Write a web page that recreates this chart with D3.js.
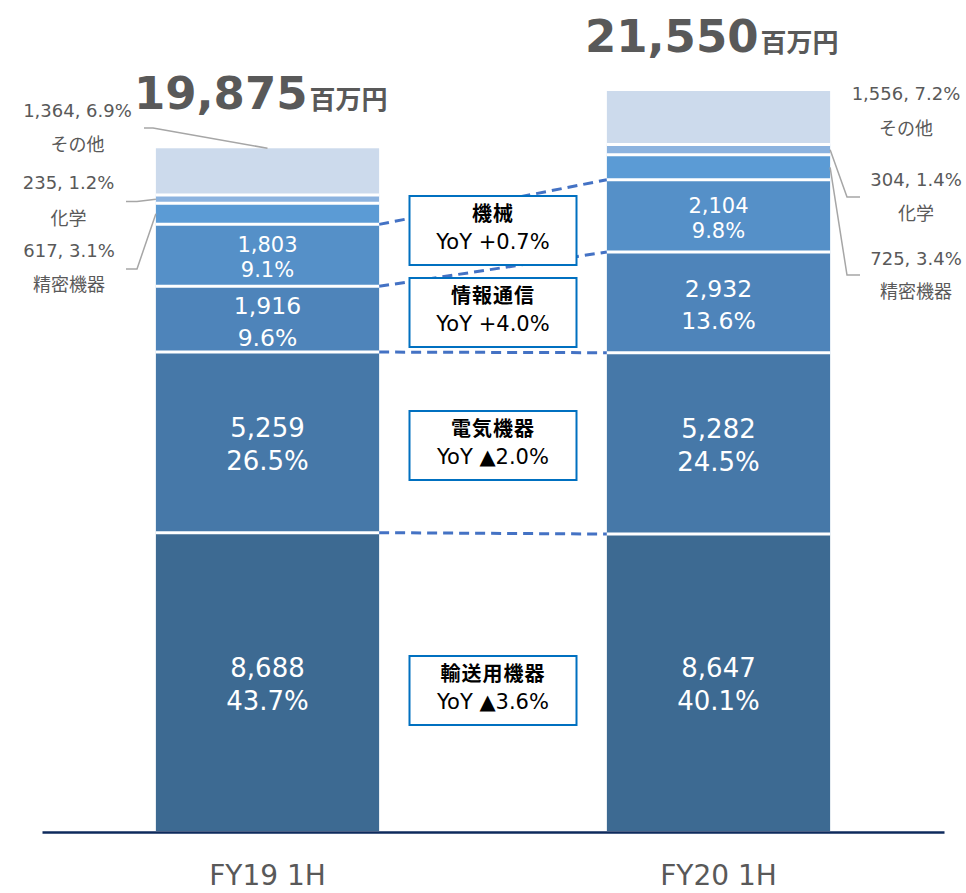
<!DOCTYPE html>
<html lang="ja">
<head>
<meta charset="utf-8">
<title>業種別売上構成</title>
<script src="https://cdn.jsdelivr.net/npm/d3@7"></script>
<style>
  body { margin: 0; background: #fff; }
  svg { display: block; font-family: 'DejaVu Sans', 'Noto Sans CJK JP', sans-serif; }
</style>
</head>
<body>
<svg width="966" height="893"></svg>
<script>
// data, bottom segment first
const categories = ['FY19 1H', 'FY20 1H'];
const segments = ['輸送用機器', '電気機器', '情報通信', '機械', '精密機器', '化学', 'その他'];
const fy19Values = [8688, 5259, 1916, 1803, 617, 235, 1364];
const fy19Shares = [43.7, 26.5, 9.6, 9.1, 3.1, 1.2, 6.9];
const fy20Values = [8647, 5282, 2932, 2104, 725, 304, 1556];
const fy20Shares = [40.1, 24.5, 13.6, 9.8, 3.4, 1.4, 7.2];
const totals = [19875, 21550];
const totalUnit = '百万円';
const yoyLabels = ['YoY ▲3.6%', 'YoY ▲2.0%', 'YoY +4.0%', 'YoY +0.7%'];

const values = [fy19Values, fy20Values];
const shares = [fy19Shares, fy20Shares];

// styles / layout
const colors = ['#3d6a92', '#4678a8', '#4e84ba', '#5590c8', '#5b9bd5', '#8cb3df', '#ccdaec'];
const innerFont = [26, 26, 23.5, 21];
const innerGap = [33, 33, 32, 25];
const boxTops = [656, 411, 278, 196];
const grey = '#595959';
const leaderColor = '#a6a6a6';

const svg = d3.select('svg');

const x = d3.scaleBand()
  .domain(categories)
  .range([42, 944])
  .paddingInner(0.505)
  .paddingOuter(0.2525);
const bw = x.bandwidth();

const y = d3.scaleLinear()
  .domain([0, d3.max(totals)])
  .range([831, 91]);

const rows = categories.map((c, i) => {
  const r = { category: c };
  segments.forEach((s, j) => { r[s] = values[i][j]; });
  return r;
});
const series = d3.stack().keys(segments)(rows);

const fmt = d3.format(',');
const pct = d3.format('.1f');

// dashed connectors between the bars (behind the boxes)
const connectors = svg.append('g');
[0, 1, 2, 3].forEach((j) => {
  connectors.append('line')
    .attr('x1', x(categories[0]) + bw)
    .attr('y1', y(series[j][0][1]))
    .attr('x2', x(categories[1]))
    .attr('y2', y(series[j][1][1]))
    .attr('stroke', '#4472c4')
    .attr('stroke-width', 3)
    .attr('stroke-dasharray', '10,6');
});

// bars
const bars = svg.append('g');
series.forEach((s, j) => {
  bars.selectAll(null)
    .data(s)
    .join('rect')
    .attr('x', d => x(d.data.category))
    .attr('y', d => y(d[1]))
    .attr('width', bw)
    .attr('height', d => y(d[0]) - y(d[1]))
    .attr('fill', colors[j]);
});

// white gaps between segments
series.slice(0, -1).forEach((s) => {
  bars.selectAll(null)
    .data(s)
    .join('line')
    .attr('x1', d => x(d.data.category))
    .attr('x2', d => x(d.data.category) + bw)
    .attr('y1', d => y(d[1]))
    .attr('y2', d => y(d[1]))
    .attr('stroke', '#fff')
    .attr('stroke-width', 3);
});

// labels inside the big segments
const inner = svg.append('g').attr('fill', '#fff').attr('text-anchor', 'middle');
[0, 1, 2, 3].forEach((j) => {
  series[j].forEach((d, i) => {
    const cy = (y(d[0]) + y(d[1])) / 2;
    const b1 = cy - innerGap[j] / 2 + innerFont[j] * 0.36 + 2;
    const t = inner.append('text')
      .attr('font-size', innerFont[j])
      .attr('x', x(d.data.category) + bw / 2);
    t.append('tspan').attr('x', x(d.data.category) + bw / 2).attr('y', b1)
      .text(fmt(values[i][j]));
    t.append('tspan').attr('x', x(d.data.category) + bw / 2).attr('y', b1 + innerGap[j])
      .text(pct(shares[i][j]) + '%');
  });
});

// small segments: labels outside with leader lines
const outside = [
  // FY19, left side
  { i: 0, j: 6, cx: 77.5, vy: 117, ny: 151, leader: [[144, 128], [153, 128]], end: 'top' },
  { i: 0, j: 5, cx: 68.5, vy: 189, ny: 225, leader: [[126, 201.5], [137, 201.5]], end: 'left' },
  { i: 0, j: 4, cx: 69, vy: 257, ny: 291, leader: [[126, 269], [137, 269]], end: 'left' },
  // FY20, right side
  { i: 1, j: 6, cx: 906, vy: 100, ny: 135, leader: null },
  { i: 1, j: 5, cx: 916, vy: 186, ny: 220, leader: [[860, 197], [847, 197]], end: 'right' },
  { i: 1, j: 4, cx: 916, vy: 265, ny: 298, leader: [[860, 275], [847, 275]], end: 'right' },
];

const outG = svg.append('g').attr('fill', grey).attr('font-size', 18).attr('text-anchor', 'middle');
outside.forEach((o) => {
  const d = series[o.j][o.i];
  outG.append('text').attr('x', o.cx).attr('y', o.vy)
    .text(fmt(values[o.i][o.j]) + ', ' + pct(shares[o.i][o.j]) + '%');
  outG.append('text').attr('x', o.cx).attr('y', o.ny)
    .text(segments[o.j]);
  if (o.leader) {
    const left = x(categories[o.i]);
    let p;
    if (o.end === 'top') p = [left + bw / 2, y(d[1])];
    else if (o.end === 'left') p = [left, (y(d[0]) + y(d[1])) / 2];
    else p = [left + bw, (y(d[0]) + y(d[1])) / 2];
    svg.append('path')
      .attr('d', d3.line()(o.leader.concat([p])))
      .attr('fill', 'none')
      .attr('stroke', leaderColor)
      .attr('stroke-width', 1.5);
  }
});

// totals above bars
totals.forEach((t, i) => {
  const txt = svg.append('text')
    .attr('x', x(categories[i]) - 22)
    .attr('y', y(t) - 39.5)
    .attr('fill', grey)
    .attr('font-weight', 'bold');
  txt.append('tspan').attr('font-size', 45).text(fmt(t));
  txt.append('tspan').attr('font-size', 26).attr('dx', 2).text(totalUnit);
});

// YoY boxes
const boxX = (x(categories[0]) + bw + x(categories[1])) / 2;
[0, 1, 2, 3].forEach((j) => {
  const top = boxTops[j];
  svg.append('rect')
    .attr('x', boxX - 83.5)
    .attr('y', top)
    .attr('width', 167)
    .attr('height', 69)
    .attr('fill', '#fff')
    .attr('stroke', '#0070c0')
    .attr('stroke-width', 2);
  svg.append('text')
    .attr('x', boxX)
    .attr('y', top + 25)
    .attr('text-anchor', 'middle')
    .attr('font-size', 20)
    .attr('font-weight', 'bold')
    .attr('letter-spacing', 1)
    .attr('fill', '#000')
    .text(segments[j]);
  svg.append('text')
    .attr('x', boxX)
    .attr('y', top + 53)
    .attr('text-anchor', 'middle')
    .attr('font-size', 21)
    .attr('fill', '#000')
    .text(yoyLabels[j]);
});

// x axis
const axis = svg.append('g')
  .attr('transform', 'translate(0,832)')
  .call(d3.axisBottom(x).tickSize(0).tickSizeOuter(0).tickPadding(33));
axis.select('.domain').attr('stroke', '#0e2a5c').attr('stroke-width', 2.5);
axis.selectAll('.tick text')
  .attr('font-size', 28)
  .attr('fill', grey)
  .attr('font-family', "'DejaVu Sans', sans-serif");
</script>
</body>
</html>
